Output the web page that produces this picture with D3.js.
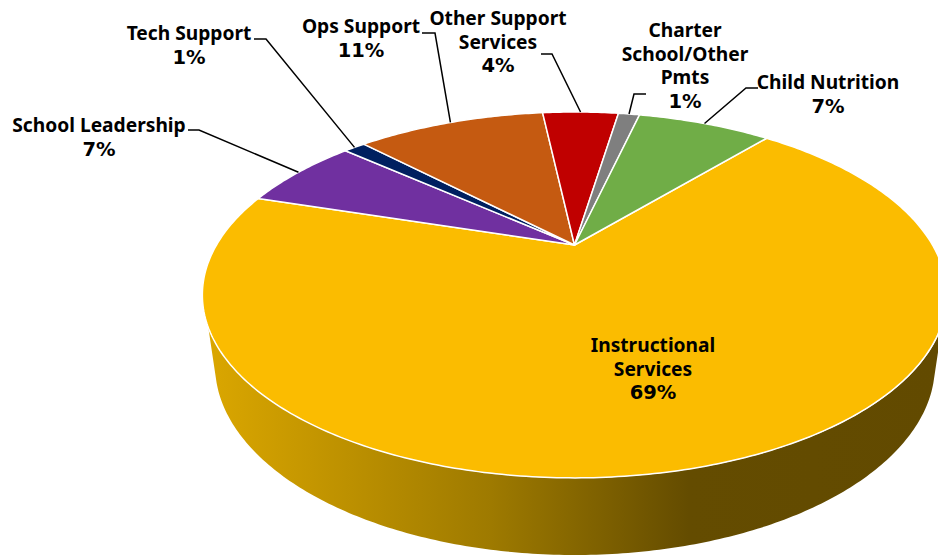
<!DOCTYPE html>
<html>
<head>
<meta charset="utf-8">
<script src="https://cdn.jsdelivr.net/npm/d3@7"></script>
<style>
html,body{margin:0;padding:0;background:#fff;overflow:hidden}
svg{display:block}
text{font-family:"Noto Sans",sans-serif;font-weight:700;font-size:19.2px;fill:#000;text-anchor:middle}
tspan.pct{font-family:"DejaVu Sans",sans-serif;font-size:19.5px}
</style>
</head>
<body>
<svg id="chart" width="938" height="556"></svg>
<script>
// Data (share of budget, %; first slice starts at 40.4° clockwise from the top)
const categories = ["Instructional Services","School Leadership","Tech Support","Ops Support","Other Support Services","Charter School/Other Pmts","Child Nutrition"];
const values = [68.57,6.6,1.2,10.6,4.3,1.2,7.53];
const percentLabels = ["69%","7%","1%","11%","4%","1%","7%"];
const colors = ["#FBBC00","#7030A0","#002060","#C55A11","#C00000","#7F7F7F","#70AD47"];

// Layout
const labelLines = [["Instructional","Services"],["School Leadership"],["Tech Support"],["Ops Support"],["Other Support","Services"],["Charter","School/Other","Pmts"],["Child Nutrition"]];
const labelX = [653,99,189,361,498,685,828];
const labelY = [352,132,40,33,25,37,89];
const lineGap = 23.6;
const elbows = [null,[[188,130],[199,130]],[[254,39],[266,39]],[[422,33],[435,33]],[[541,54],[552,54]],[[646,94],[634,94]],[[758,88],[746,88]]];

const apex = {x:574.5,y:245}, persp = -0.273, kx = 358, ky = 169.3;
const rad = d => d*Math.PI/180;
function project(a){
  const u = Math.sin(a), v = -Math.cos(a), den = 1 + persp*v;
  return [apex.x + kx*u/den, apex.y + ky*v/den];
}
const svg = d3.select("#chart");
const line = d3.line();

const pie = d3.pie().sort(null).value(d=>d).startAngle(rad(40.4)).endAngle(rad(40.4)+2*Math.PI);
const arcs = pie(values);

// Wall
const defs = svg.append("defs");
const grad = defs.append("linearGradient").attr("id","wall").attr("gradientUnits","userSpaceOnUse")
  .attr("x1",205).attr("x2",938).attr("y1",0).attr("y2",0);
[[0,"#DBA700"],[0.39,"#9E7A00"],[0.66,"#644C00"],[1,"#624A00"]].forEach(s=>
  grad.append("stop").attr("offset",s[0]).attr("stop-color",s[1]));

const upperRim = {cx:575,cy:295,rx:372.5,ry:183};
const lowerRim = {cx:575,cy:365,rx:360,ry:190};
const joinT = Math.asin(0.095);
const lowerBottom = d3.range(0,1.0001,1/200).map(f=>{
  const t = joinT + f*(Math.PI-2*joinT);
  return [lowerRim.cx+lowerRim.rx*Math.cos(t), lowerRim.cy+lowerRim.ry*Math.sin(t)];
});
// upper rim between left and right shoulders, then back along the lower rim
const shoulder = Math.asin(32/183);
const rim = d3.range(0,1.0001,1/200).map(f=>{
  const t = Math.PI-shoulder - f*(Math.PI-2*shoulder);
  return [upperRim.cx+upperRim.rx*Math.cos(t), upperRim.cy+upperRim.ry*Math.sin(t)];
});
svg.append("path").attr("d",line(rim.concat(lowerBottom))+"Z").attr("fill","url(#wall)");

// Top face
svg.append("g").selectAll("path").data(arcs).join("path")
  .attr("d",d=>{
    const n = Math.max(8,Math.ceil((d.endAngle-d.startAngle)*80));
    const pts = d3.range(n+1).map(i=>project(d.startAngle+(d.endAngle-d.startAngle)*i/n));
    return line([[apex.x,apex.y],...pts])+"Z";
  })
  .attr("fill",(d,i)=>colors[i])
  .attr("stroke","#fff").attr("stroke-width",1.5).attr("stroke-linejoin","round");

// Leaders
svg.append("g").selectAll("path").data(arcs.filter((d,i)=>elbows[i])).join("path")
  .attr("d",d=>{
    const i = d.index;
    return line([...elbows[i],project((d.startAngle+d.endAngle)/2)]);
  })
  .attr("fill","none").attr("stroke","#000").attr("stroke-width",1.5);

// Labels
const lab = svg.append("g").selectAll("text").data(categories).join("text")
  .attr("x",(d,i)=>labelX[i]).attr("y",(d,i)=>labelY[i]);
lab.each(function(d,i){
  const t = d3.select(this);
  const rows = labelLines[i];
  rows.forEach((s,j)=>
    t.append("tspan").attr("x",labelX[i]).attr("y",labelY[i]+j*lineGap).text(s));
  t.append("tspan").attr("class","pct").attr("x",labelX[i]).attr("y",labelY[i]+rows.length*lineGap).text(percentLabels[i]);
});
</script>
</body>
</html>
